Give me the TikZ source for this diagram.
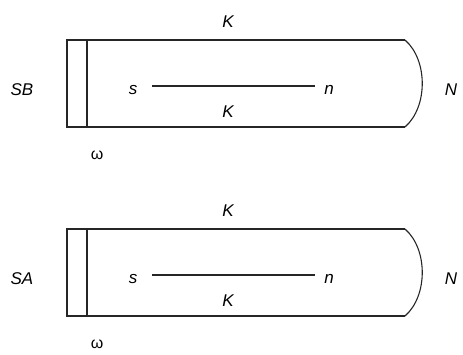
\documentclass[tikz,border=0pt]{standalone}
\usepackage{fontspec}
\setmainfont{Liberation Sans}
\begin{document}
\begin{tikzpicture}[x=1pt,y=-1pt,
  lbl/.style={font=\fontsize{17}{17}\selectfont\itshape, inner sep=0pt},
  om/.style={font=\fontsize{16}{16}\selectfont, inner sep=0pt},
  ln/.style={line width=1.1pt, black!85}]
\useasboundingbox (0,0) rectangle (463,354);
\foreach \dy/\nm in {0/SB,189/SA}{
  \begin{scope}[yshift=-\dy pt]
  \draw[ln] (405,40) -- (67,40) -- (67,127) -- (405,127);
  \draw[ln] (405,40) .. controls (428,60) and (428,107) .. (405,127);
  \draw[ln] (87,40) -- (87,127);
  \node[lbl] (kt\nm) at (228,22) {K};
  \node[lbl] (kb\nm) at (228,112) {K};
  \node[lbl] (lab\nm) at (22,90) {\nm};
  \node[lbl] (s\nm) at (133,90) {s};
  \node[lbl] (n\nm) at (329,90) {n};
  \node[lbl] (N\nm) at (451,90) {N};
  \node[om] (w\nm) at (97,155) {ω};
  \draw[ln] ([xshift=15pt,yshift=4pt]s\nm.east) -- ([xshift=-9pt,yshift=4pt]n\nm.west);
  \end{scope}
}
\end{tikzpicture}
\end{document}
